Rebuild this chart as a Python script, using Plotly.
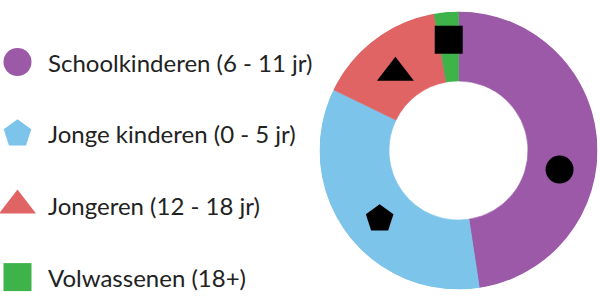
import plotly.graph_objects as go

# ---- data ----
categories = ["Schoolkinderen (6 - 11 jr)", "Jonge kinderen (0 - 5 jr)",
              "Jongeren (12 - 18 jr)", "Volwassenen (18+)"]
values = [47.6, 34.6, 15.0, 2.8]

# ---- styles ----
colors = ["#9B59A7", "#7DC4EA", "#E06464", "#3DB34A"]
symbols = ["circle", "pentagon", "triangle-up", "square"]
legend_sizes = [28, 29, 32, 28]
chart_sizes = [28, 29, 32, 28]
angle_adjust = [15, -4.5, -2, 0]     # marker placement tweaks (deg)
radius_frac = [0.74, 0.75, 0.72, 0.80]
HOLE = 0.5

# donut geometry (pixels)
W, H = 600, 300
cx, cy, R = 458.5, 150.5, 139
dom_x = [(cx - R) / W, (cx + R) / W]
dom_y = [(H - cy - R) / H, (H - cy + R) / H]

# slice angles
total = sum(values)
widths = [v / total * 360 for v in values]
mids = []
acc = 0
for w in widths:
    mids.append(acc + w / 2)
    acc += w
marker_thetas = [m + a for m, a in zip(mids, angle_adjust)]

fig = go.Figure()
fig.add_trace(go.Barpolar(
    theta=mids, r=[1 - HOLE] * len(values), base=HOLE, width=widths,
    marker=dict(color=colors, line=dict(color=colors, width=0.6)),
    text=categories, hoverinfo="text", showlegend=False,
))
fig.add_trace(go.Scatterpolar(
    r=radius_frac, theta=marker_thetas, mode="markers",
    marker=dict(symbol=symbols, size=chart_sizes, color="black", opacity=1,
                line=dict(width=0)),
    showlegend=False, hoverinfo="skip",
))

# manual legend
LEG_MARKER_X, LEG_TEXT_X = 17.5, 46
row0, row_gap = 62, 71.7
idx = list(range(len(categories)))
fig.add_trace(go.Scatter(
    x=[LEG_MARKER_X] * len(categories), y=idx, mode="markers",
    marker=dict(symbol=symbols, size=legend_sizes, color=colors, opacity=1,
                line=dict(width=0)),
    showlegend=False, hoverinfo="skip",
))
for i, c in enumerate(categories):
    fig.add_annotation(x=LEG_TEXT_X, y=i, xref="x", yref="y", text=c,
                       showarrow=False, xanchor="left", yanchor="middle",
                       font=dict(family="Lato", size=24, color="#222222"))

fig.update_layout(
    width=W, height=H, margin=dict(l=0, r=0, t=0, b=0),
    paper_bgcolor="white", plot_bgcolor="rgba(0,0,0,0)",
    polar=dict(domain=dict(x=dom_x, y=dom_y), bgcolor="rgba(0,0,0,0)", hole=0,
               bargap=0,
               radialaxis=dict(visible=False, range=[0, 1]),
               angularaxis=dict(visible=False, rotation=90, direction="clockwise")),
    xaxis=dict(domain=[0, 0.55], range=[0, 330], visible=False, fixedrange=True),
    yaxis=dict(domain=[0, 1], range=[(H - row0) / row_gap, -row0 / row_gap],
               visible=False, fixedrange=True),
)
fig.write_html("out.html")
